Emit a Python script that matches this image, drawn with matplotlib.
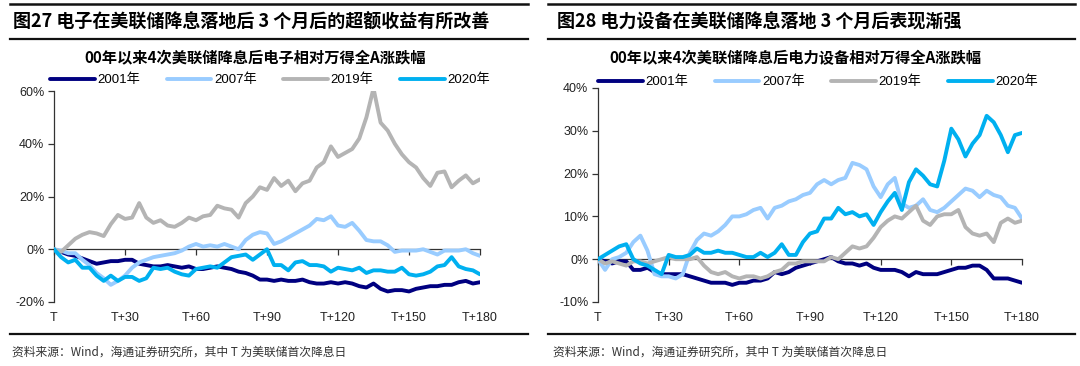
# -*- coding: utf-8 -*-

# Importing Libraries
import numpy as np
import matplotlib
matplotlib.use('Agg')
import matplotlib.pyplot as plt
from matplotlib.lines import Line2D
from matplotlib.ticker import MultipleLocator, PercentFormatter

plt.rcParams['font.family'] = ['Liberation Sans', 'Noto Sans CJK SC']
plt.rcParams['axes.unicode_minus'] = False

# trading days after the first cut, sampled every 3 days
days = np.arange(0, 181, 3)
tick_days = [0, 30, 60, 90, 120, 150, 180]
tick_labels = ['T', 'T+30', 'T+60', 'T+90', 'T+120', 'T+150', 'T+180']
years = ['2001年', '2007年', '2019年', '2020年']
colors = ['#000080', '#99CCFF', '#B4B4B4', '#00B0F0']

# electronics vs Wind All A (%)
elec_2001 = [0, -1, -2, -2.5, -3.5, -4.5, -5.5, -5, -4.5, -4.5,
             -4, -4, -5.5, -6, -6.5, -6.5, -6, -6.5, -7, -6.5,
             -7.5, -7.5, -7, -6.5, -7, -7.5, -8.5, -9, -10, -11.5,
             -11.5, -12, -11.5, -12, -12, -11.5, -12.5, -13, -13, -12.5,
             -13, -12.5, -13, -14, -14.5, -13, -15, -16, -15.5, -15.5,
             -16, -15, -14.5, -14, -14, -13.5, -13.5, -12.5, -12, -13,
             -12.5]
elec_2007 = [0, -0.5, -1.5, -1.5, -4, -6, -9, -11, -13.5, -12,
             -10, -7, -5, -4, -3, -2.5, -2, -1.5, -0.5, 1,
             2, 1, 1.5, 1, 2, 1, 0, 3.5, 5.5, 6.5,
             6, 2, 3, 4.5, 6, 7.5, 9, 11.5, 11, 12.5,
             9, 8.5, 10, 7, 3.5, 3, 3, 1.5, -1, -0.5,
             -0.5, -0.5, 0, -1, -2, -0.5, -0.5, -0.5, 0, -1.5,
             -2.5]
elec_2019 = [0, -1, 1.5, 4, 5.5, 6.5, 6, 5, 9.5, 13,
             11.5, 12, 17.5, 12, 10, 11, 9, 8.5, 10, 12,
             11, 12.5, 13, 16.5, 15.5, 15, 12, 17.5, 20, 23.5,
             22.5, 27, 24, 26, 22, 25, 26, 31, 33, 39,
             35, 36.5, 38, 42, 50, 61, 48, 45, 40, 36,
             33, 31, 27, 24, 29, 29.5, 23.5, 26, 28, 25,
             26.5]
elec_2020 = [0, -3, -5, -4, -7, -7, -10, -12, -10, -12,
             -10.5, -10.5, -12, -11, -7, -7.5, -7, -8.5, -9.5, -10,
             -7.5, -7, -6.5, -7, -5, -3, -2.5, -2, -4, -2,
             0, -6, -6, -8, -5, -4.5, -6, -6, -6.5, -8.5,
             -7, -7.5, -8, -7, -9, -8, -8, -8.5, -8.5, -7,
             -9.5, -10, -9.5, -8.5, -6.5, -6, -3, -6.5, -7.5, -8,
             -9.5]

# power equipment vs Wind All A (%)
power_2001 = [0, -0.5, -1, -0.5, -0.5, -2.5, -2.5, -2, -3, -3.5,
              -3.5, -3.5, -3.5, -4, -4.5, -5, -5.5, -5.5, -5.5, -6,
              -5.5, -5.5, -5, -5, -4.5, -3, -3.5, -3, -2, -1.5,
              -1, -0.5, 0, 0.5, -0.5, -1, -1, -1.5, -1, -2,
              -2.5, -2.5, -2.5, -3, -4, -3, -3.5, -3.5, -3.5, -3,
              -2.5, -2, -2, -1.5, -1.5, -2.5, -4.5, -4.5, -4.5, -5,
              -5.5]
power_2007 = [0, -2.5, 0, 0.5, 1.5, 4, 5.5, 2, -3.5, -4,
              -4, -4.5, -3.5, 1.5, 4.5, 6, 5.5, 6.5, 8, 10,
              10, 10.5, 11.5, 12, 9.5, 12, 12.5, 13.5, 14, 15,
              15.5, 17.5, 18.5, 17.5, 18.5, 19, 22.5, 22, 21, 17,
              14.5, 17.5, 19, 13, 12, 12.5, 14, 11.5, 11, 12,
              13.5, 15, 16.5, 16, 14.5, 16, 15, 14.5, 12.5, 12,
              9.5]
power_2019 = [0, -1, -0.5, -1, -1.5, -0.5, -0.5, -1, -0.5, 0,
              0.5, 0, 0, 0, 0.5, -1.5, -3, -3.5, -3, -4,
              -4.5, -4, -4, -4.5, -4, -3, -2.5, -1, -1, -0.5,
              -0.5, -0.5, -0.5, 0.5, 0, 1.5, 3, 2.5, 3, 5,
              7.5, 9, 10, 9.5, 11, 12.5, 9, 8, 10, 10.5,
              10.5, 11.5, 7.5, 6, 5.5, 6, 4, 8.5, 9.5, 8.5,
              9]
power_2020 = [0, 1, 2, 3, 3.5, 0, -1, -1.5, -2.5, -3.5,
              1, 0.5, 0.5, 1, 2.5, 1.5, 1.5, 2, 1.5, 1.5,
              1, 0.5, 0.5, 1.5, 0.5, 1.5, 3.5, 1, 1, 4,
              6, 6.5, 9.5, 9.5, 12, 10.5, 11, 10, 10.5, 8,
              11, 13.5, 15.5, 11.5, 18, 21, 19.5, 17.5, 17, 23,
              30.5, 28, 24, 27, 29, 33.5, 32, 29, 25, 29,
              29.5]

W, H = 1080, 366
fig = plt.figure(figsize=(W / 100, H / 100), dpi=100)


def fx(x):
    return x / W


def fy(y):
    return 1 - y / H


def panel(x0, x1, y_top, y_bot, series, ylim, ystep, pad):
    ax = fig.add_axes([fx(x0), fy(y_bot), (x1 - x0) / W, (y_bot - y_top) / H])
    for s, c, lab in zip(series, colors, years):
        ax.plot(days, s, color=c, lw=2.8, label=lab, zorder=3,
                solid_joinstyle='round', solid_capstyle='round')
    ax.set_xlim(0, 180)
    ax.set_ylim(ylim)
    for side in ['top', 'right']:
        ax.spines[side].set_visible(False)
    ax.spines['bottom'].set_position(('data', 0))
    ax.spines['bottom'].set_color('#333333')
    ax.spines['left'].set_color('#333333')
    ax.spines['bottom'].set_linewidth(0.9)
    ax.spines['left'].set_linewidth(0.9)
    ax.yaxis.set_major_locator(MultipleLocator(ystep))
    ax.yaxis.set_major_formatter(PercentFormatter(xmax=100, decimals=0))
    ax.set_xticks(tick_days, tick_labels)
    ax.tick_params(axis='y', direction='out', length=4, width=0.9,
                   labelsize=9, pad=3, colors='#333333', labelcolor='#222222')
    ax.tick_params(axis='x', direction='out', length=4, width=0.9,
                   labelsize=9, pad=pad, colors='#333333', labelcolor='#222222')
    ax.patch.set_alpha(0)
    return ax


ax1 = panel(54, 480, 91, 302, [elec_2001, elec_2007, elec_2019, elec_2020],
            (-20, 60), 20, 41)
ax2 = panel(598, 1022, 88, 302, [power_2001, power_2007, power_2019, power_2020],
            (-10, 40), 10, 34)

for ax, cx, cy in [(ax1, 270, 80), (ax2, 818, 82)]:
    ax.legend(loc='center', bbox_to_anchor=(fx(cx), fy(cy)),
              bbox_transform=fig.transFigure, ncol=4, frameon=False,
              fontsize=9.5, handlelength=3.4, handletextpad=0.2,
              columnspacing=2.0, borderpad=0)

# frame lines of the two report blocks
for xa, xb in [(10, 528), (548, 1075)]:
    for y, lw in [(4, 1.8), (39, 1.6), (334, 1.6)]:
        fig.add_artist(Line2D([fx(xa), fx(xb)], [fy(y), fy(y)],
                              color='#111111', lw=lw))

cjk = ['Noto Sans CJK SC']
fig.text(fx(13), fy(22), '图27 电子在美联储降息落地后 3 个月后的超额收益有所改善',
         family=cjk, fontsize=13, fontweight='bold', va='center', ha='left')
fig.text(fx(557), fy(22), '图28 电力设备在美联储降息落地 3 个月后表现渐强',
         family=cjk, fontsize=13, fontweight='bold', va='center', ha='left')
fig.text(fx(255), fy(58), '00年以来4次美联储降息后电子相对万得全A涨跌幅',
         family=cjk, fontsize=11, fontweight='bold', va='center', ha='center')
fig.text(fx(795), fy(58), '00年以来4次美联储降息后电力设备相对万得全A涨跌幅',
         family=cjk, fontsize=11, fontweight='bold', va='center', ha='center')

src = '资料来源：Wind，海通证券研究所，其中 T 为美联储首次降息日'
fig.text(fx(12), fy(352), src, family=cjk, fontsize=8.5, color='#333333',
         va='center', ha='left')
fig.text(fx(553), fy(352), src, family=cjk, fontsize=8.5, color='#333333',
         va='center', ha='left')

fig.savefig('out.png', dpi=100, facecolor='white')
